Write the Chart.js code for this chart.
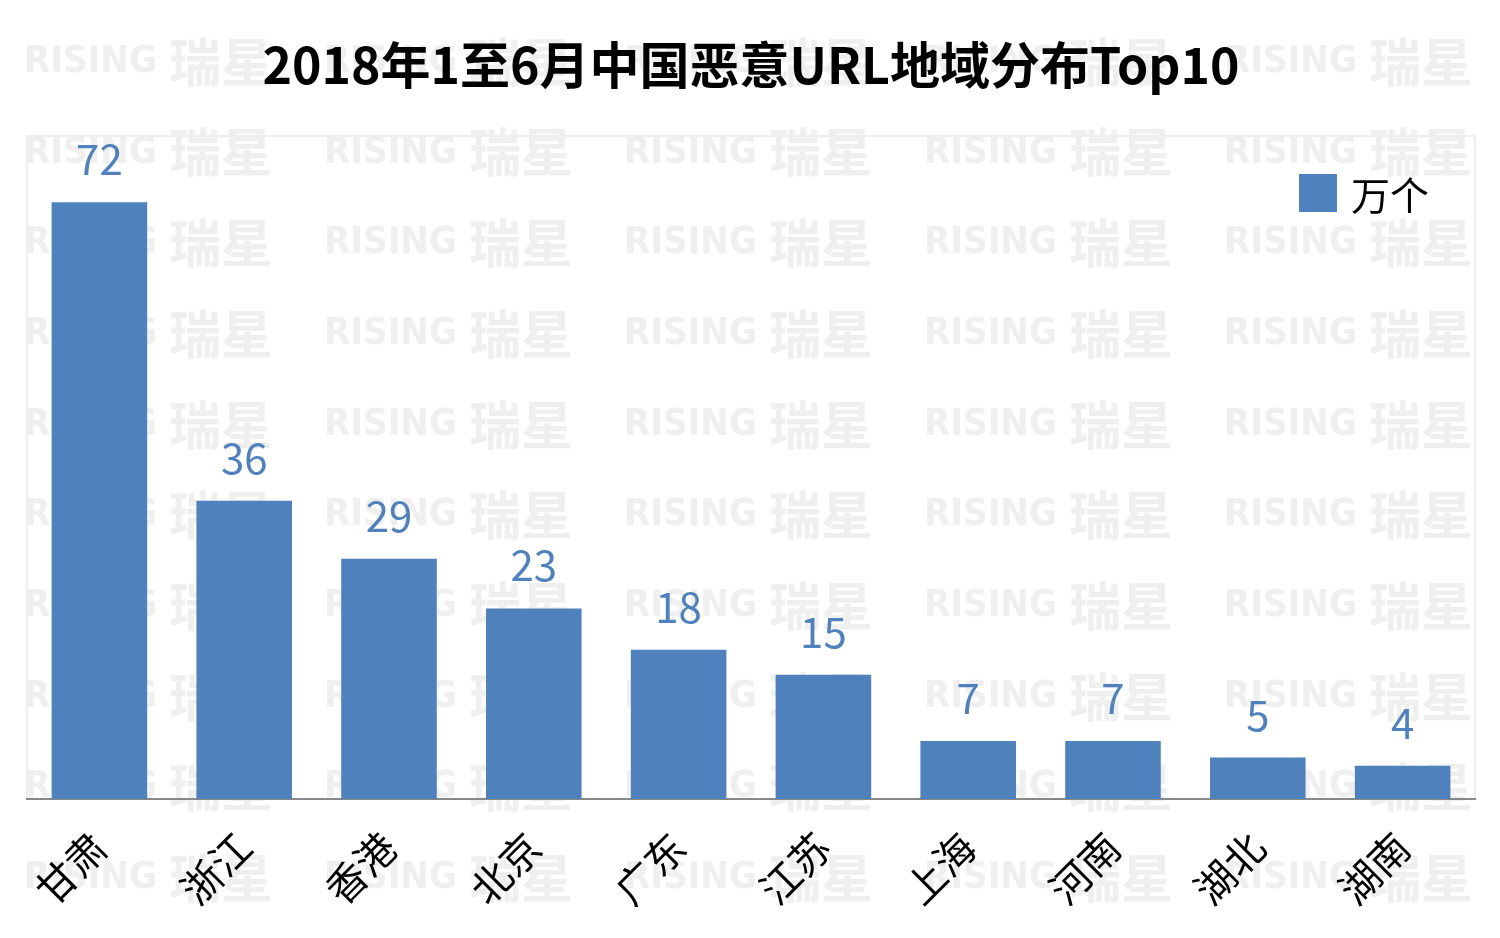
<!DOCTYPE html>
<html>
<head>
<meta charset="utf-8">
<script src="https://cdn.jsdelivr.net/npm/chart.js@4/dist/chart.umd.min.js"></script>
<style>
  html, body { margin: 0; padding: 0; background: #fff; }
  #wrap { width: 1500px; height: 938px; }
</style>
</head>
<body>
<div id="wrap"><canvas id="chart"></canvas></div>
<script>
const regions = ['甘肃', '浙江', '香港', '北京', '广东', '江苏', '上海', '河南', '湖北', '湖南'];
const urlCounts = [72, 36, 29, 23, 18, 15, 7, 7, 5, 4];
const seriesName = '万个';
const chartTitle = '2018年1至6月中国恶意URL地域分布Top10';

const BLUE = '#4F81BD';
const FONT = "'Noto Sans CJK SC', 'Noto Sans', sans-serif";

// faint background watermark + plot frame
const background = {
    id: 'background',
    beforeDraw(chart) {
        const ctx = chart.ctx;
        const a = chart.chartArea;
        ctx.save();
        ctx.fillStyle = '#efefef';
        ctx.textBaseline = 'middle';
        for (let row = 0; row < 10; row++) {
            const y = 62 + row * 90.7;
            for (let col = 0; col < 5; col++) {
                const x = 24 + col * 300;
                ctx.font = "bold 38px 'DejaVu Sans Condensed', 'DejaVu Sans', sans-serif";
                ctx.fillText('RISING', x, y);
                ctx.font = "bold 52px " + FONT;
                ctx.fillText('瑞星', x + 145, y);
            }
        }
        ctx.strokeStyle = '#eeeeee';
        ctx.lineWidth = 2;
        ctx.strokeRect(a.left, a.top, a.right - a.left, a.bottom - a.top);
        ctx.restore();
    }
};

// value labels above each bar and legend box
const overlay = {
    id: 'overlay',
    afterDatasetsDraw(chart) {
        const ctx = chart.ctx;
        const a = chart.chartArea;
        const ds = chart.data.datasets[0];
        const meta = chart.getDatasetMeta(0);
        ctx.save();
        ctx.fillStyle = BLUE;
        ctx.font = "42px " + FONT;
        ctx.textAlign = 'center';
        ctx.textBaseline = 'bottom';
        meta.data.forEach((bar, i) => {
            ctx.fillText(ds.data[i], bar.x, bar.y - 22);
        });
        // legend
        ctx.fillStyle = ds.backgroundColor;
        ctx.fillRect(a.right - 176, a.top + 38, 38, 38);
        ctx.fillStyle = '#000';
        ctx.font = "39px " + FONT;
        ctx.textAlign = 'left';
        ctx.textBaseline = 'middle';
        ctx.fillText(ds.label, a.right - 124, a.top + 59);
        ctx.restore();
    }
};

new Chart(document.getElementById('chart'), {
    type: 'bar',
    data: {
        labels: regions,
        datasets: [{
            label: seriesName,
            data: urlCounts,
            backgroundColor: BLUE,
            categoryPercentage: 0.66,
            barPercentage: 1.0
        }]
    },
    options: {
        responsive: true,
        maintainAspectRatio: false,
        animation: false,
        layout: { padding: { left: 27, right: 25, top: 0, bottom: 0 } },
        plugins: {
            title: {
                display: true,
                text: chartTitle,
                color: '#000',
                font: { family: FONT, size: 50, weight: 'bold' },
                padding: { top: 35, bottom: 41 }
            },
            legend: { display: false },
            tooltip: { enabled: false }
        },
        scales: {
            x: {
                grid: { display: false, drawTicks: false },
                border: { display: true, color: '#888888', width: 2 },
                ticks: {
                    color: '#000',
                    font: { family: FONT, size: 40 },
                    maxRotation: 45,
                    minRotation: 45,
                    padding: 24
                },
                afterFit(scale) { scale.height = 139; }
            },
            y: {
                display: false,
                min: 0,
                max: 80
            }
        }
    },
    plugins: [background, overlay]
});
</script>
</body>
</html>
